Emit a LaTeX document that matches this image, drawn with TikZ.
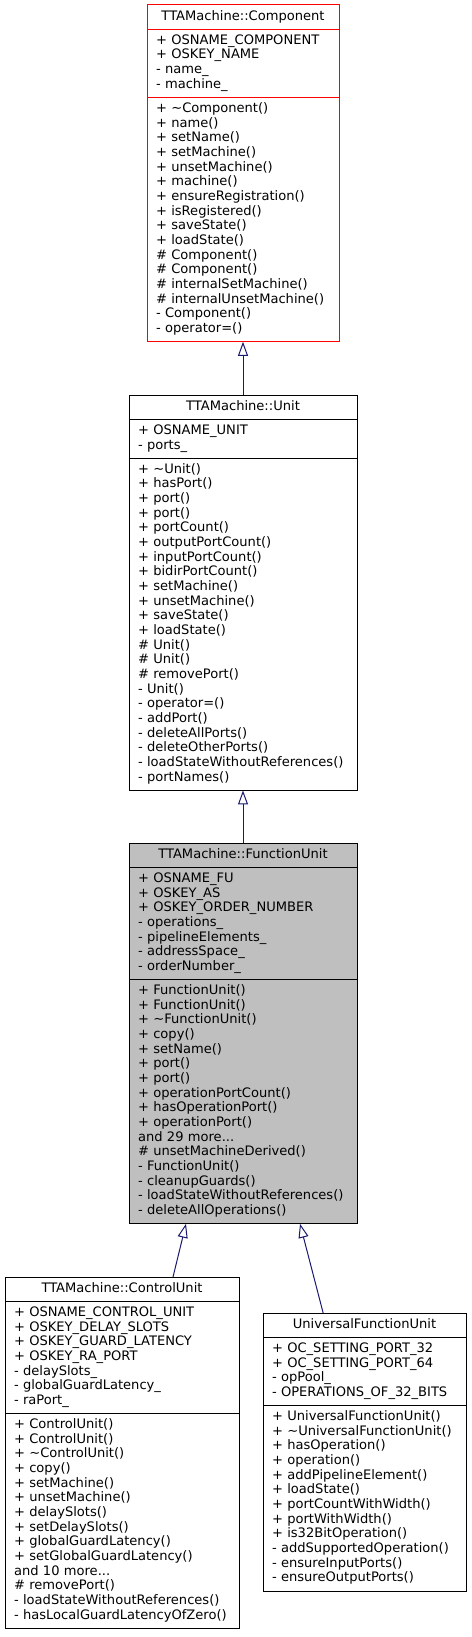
\documentclass[tikz,border=0pt]{standalone}
\usepackage{fontspec}
\newfontfamily\umlfont{DejaVu Sans}
\usetikzlibrary{arrows.meta, positioning}
\definecolor{edgeblue}{HTML}{191970}
\definecolor{hlgray}{HTML}{BFBFBF}

\begin{document}
\begin{tikzpicture}[
  x=0.75pt, y=-0.75pt,
  node distance = 0pt,
  part/.style     = {draw, outer sep=0pt, line width=0.75pt,
                     inner xsep=6.75pt, inner ysep=3.6pt,
                     font=\umlfont\fontsize{9.8}{11}\selectfont,
                     execute at begin node=\strut,
                     execute at end node=\strut},
  headnode/.style = {part, align=center},
  listnode/.style = {part, align=left},
  hlnode/.style   = {fill=hlgray},
  inh/.style      = {-{Triangle[open, length=10.5pt, width=7.5pt]},
                     draw=edgeblue, line width=0.75pt},
]
\useasboundingbox (0,0) rectangle (471,1637);

% =============================================
% TTAMachine::Component
% =============================================
\node[headnode, draw=red, text width=130.5pt, anchor=north] (comphead) at (243,5)
  {TTAMachine::Component};
\node[listnode, draw=red, text width=130.5pt, below=of comphead] (compattr)
  {+ OSNAME\_COMPONENT\\+ OSKEY\_NAME\\- name\_\\- machine\_};
\node[listnode, draw=red, text width=130.5pt, below=of compattr] (compops)
  {+ \textasciitilde Component()\\+ name()\\+ setName()\\+ setMachine()\\%
   + unsetMachine()\\+ machine()\\+ ensureRegistration()\\+ isRegistered()\\%
   + saveState()\\+ loadState()\\\# Component()\\\# Component()\\%
   \# internalSetMachine()\\\# internalUnsetMachine()\\- Component()\\%
   - operator=()};

% =============================================
% TTAMachine::Unit
% =============================================
\node[headnode, text width=157.5pt, anchor=north] (unithead) at (243,395)
  {TTAMachine::Unit};
\node[listnode, text width=157.5pt, below=of unithead] (unitattr)
  {+ OSNAME\_UNIT\\- ports\_};
\node[listnode, text width=157.5pt, below=of unitattr] (unitops)
  {+ \textasciitilde Unit()\\+ hasPort()\\+ port()\\+ port()\\+ portCount()\\%
   + outputPortCount()\\+ inputPortCount()\\+ bidirPortCount()\\%
   + setMachine()\\+ unsetMachine()\\+ saveState()\\+ loadState()\\%
   \# Unit()\\\# Unit()\\\# removePort()\\- Unit()\\- operator=()\\%
   - addPort()\\- deleteAllPorts()\\- deleteOtherPorts()\\%
   - loadStateWithoutReferences()\\- portNames()};

% =============================================
% TTAMachine::FunctionUnit (highlighted)
% =============================================
\node[headnode, hlnode, text width=157.5pt, anchor=north] (fuhead) at (243,843)
  {TTAMachine::FunctionUnit};
\node[listnode, hlnode, text width=157.5pt, below=of fuhead] (fuattr)
  {+ OSNAME\_FU\\+ OSKEY\_AS\\+ OSKEY\_ORDER\_NUMBER\\- operations\_\\%
   - pipelineElements\_\\- addressSpace\_\\- orderNumber\_};
\node[listnode, hlnode, text width=157.5pt, below=of fuattr] (fuops)
  {+ FunctionUnit()\\+ FunctionUnit()\\+ \textasciitilde FunctionUnit()\\%
   + copy()\\+ setName()\\+ port()\\+ port()\\+ operationPortCount()\\%
   + hasOperationPort()\\+ operationPort()\\and 29 more...\\%
   \# unsetMachineDerived()\\- FunctionUnit()\\- cleanupGuards()\\%
   - loadStateWithoutReferences()\\- deleteAllOperations()};

% =============================================
% TTAMachine::ControlUnit
% =============================================
\node[headnode, text width=162pt, anchor=north] (cuhead) at (122,1277)
  {TTAMachine::ControlUnit};
\node[listnode, text width=162pt, below=of cuhead] (cuattr)
  {+ OSNAME\_CONTROL\_UNIT\\+ OSKEY\_DELAY\_SLOTS\\+ OSKEY\_GUARD\_LATENCY\\%
   + OSKEY\_RA\_PORT\\- delaySlots\_\\- globalGuardLatency\_\\- raPort\_};
\node[listnode, text width=162pt, below=of cuattr] (cuops)
  {+ ControlUnit()\\+ ControlUnit()\\+ \textasciitilde ControlUnit()\\%
   + copy()\\+ setMachine()\\+ unsetMachine()\\+ delaySlots()\\%
   + setDelaySlots()\\+ globalGuardLatency()\\+ setGlobalGuardLatency()\\%
   and 10 more...\\\# removePort()\\- loadStateWithoutReferences()\\%
   - hasLocalGuardLatencyOfZero()};

% =============================================
% UniversalFunctionUnit
% =============================================
\node[headnode, text width=138.75pt, anchor=north] (ufuhead) at (364.5,1313)
  {UniversalFunctionUnit};
\node[listnode, text width=138.75pt, below=of ufuhead] (ufuattr)
  {+ OC\_SETTING\_PORT\_32\\+ OC\_SETTING\_PORT\_64\\- opPool\_\\%
   - OPERATIONS\_OF\_32\_BITS};
\node[listnode, text width=138.75pt, below=of ufuattr] (ufuops)
  {+ UniversalFunctionUnit()\\+ \textasciitilde UniversalFunctionUnit()\\%
   + hasOperation()\\+ operation()\\+ addPipelineElement()\\+ loadState()\\%
   + portCountWithWidth()\\+ portWithWidth()\\+ is32BitOperation()\\%
   - addSupportedOperation()\\- ensureInputPorts()\\- ensureOutputPorts()};

% =============================================
% INHERITANCE ARROWS
% =============================================
\draw[inh] (unithead) -- (compops);
\draw[inh] (fuhead)   -- (unitops);
\draw[inh] ([xshift=38.25pt]cuhead.north) -- ([xshift=-42.75pt]fuops.south);
\draw[inh] ([xshift=-31pt]ufuhead.north)  -- ([xshift=42.75pt]fuops.south);

\end{tikzpicture}
\end{document}
